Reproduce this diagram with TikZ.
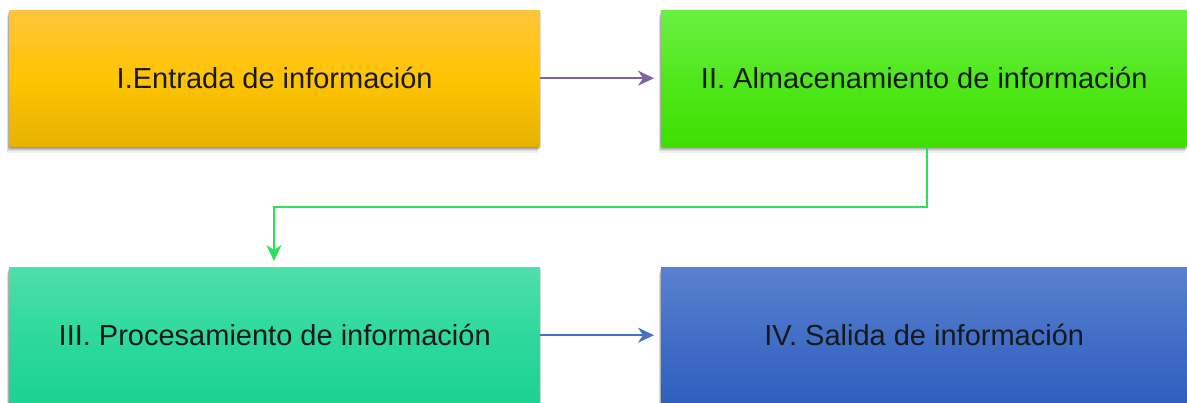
\documentclass[tikz,border=0pt]{standalone}
\usepackage{fontspec}
\setmainfont{Liberation Sans}
\usetikzlibrary{arrows.meta,positioning}

\definecolor{purpleline}{HTML}{8064A2}
\definecolor{blueline}{HTML}{4472C4}
\definecolor{greenline}{HTML}{2BE155}

\definecolor{goldtop}{HTML}{FFC53C}
\definecolor{goldmid}{HTML}{FFC400}
\definecolor{goldbot}{HTML}{E6B300}
\definecolor{limetop}{HTML}{6AF043}
\definecolor{limemid}{HTML}{50E81C}
\definecolor{limebot}{HTML}{3EE000}
\definecolor{minttop}{HTML}{4EDFAA}
\definecolor{mintmid}{HTML}{2ED99D}
\definecolor{mintbot}{HTML}{1BD392}
\definecolor{navytop}{HTML}{5B80CE}
\definecolor{navymid}{HTML}{426FC7}
\definecolor{navybot}{HTML}{2F5EBE}

\tikzset{
  x=1pt, y=-1pt,
  stagebox/.style={
    anchor=north west,
    minimum width=531pt, minimum height=136pt, inner sep=0pt,
    font=\fontsize{29}{34}\selectfont, text=black!90,
    % soft shadow built from stacked translucent copies
    preaction={fill=black, opacity=0.06, transform canvas={xshift=-2pt, yshift=-7pt}},
    preaction={fill=black, opacity=0.08, transform canvas={xshift=-2pt, yshift=-5pt}},
    preaction={fill=black, opacity=0.10, transform canvas={xshift=-1pt, yshift=-4pt}},
    preaction={fill=black, opacity=0.12, transform canvas={xshift=-1pt, yshift=-2pt}},
    preaction={fill=black, opacity=0.12, transform canvas={xshift=1pt, yshift=-3pt}}
  },
  shade3/.style n args={3}{top color=#1, bottom color=#3, middle color=#2},
  flow/.style={line width=1.6pt, -{Stealth[length=16pt, width=15pt, inset=5pt]}}
}

\begin{document}
\begin{tikzpicture}
  \useasboundingbox (0,0) rectangle (1187,402);

  \node[stagebox, shade3={goldtop}{goldmid}{goldbot}]
    (entrada) at (9,10) {I.Entrada de información};
  \node[stagebox, shade3={limetop}{limemid}{limebot}, minimum width=526pt]
    (almacen) at (661,10) {II. Almacenamiento de información};
  \node[stagebox, shade3={minttop}{mintmid}{mintbot}]
    (proceso) at (9,267) {III. Procesamiento de información};
  \node[stagebox, shade3={navytop}{navymid}{navybot}, minimum width=526pt]
    (salida) at (661,267) {IV. Salida de información};

  \coordinate (turnA) at (927,207);
  \coordinate (turnB) at (274,207);

  \draw[flow, draw=purpleline, color=purpleline] (entrada.east) -- ([xshift=-7pt]almacen.west);
  \draw[flow, draw=blueline, color=blueline] (proceso.east) -- ([xshift=-7pt]salida.west);
  \draw[flow, draw=greenline, color=greenline]
    (almacen.south -| turnA) -- (turnA) -- (turnB) -- ([yshift=6pt]proceso.north -| turnB);
\end{tikzpicture}
\end{document}
